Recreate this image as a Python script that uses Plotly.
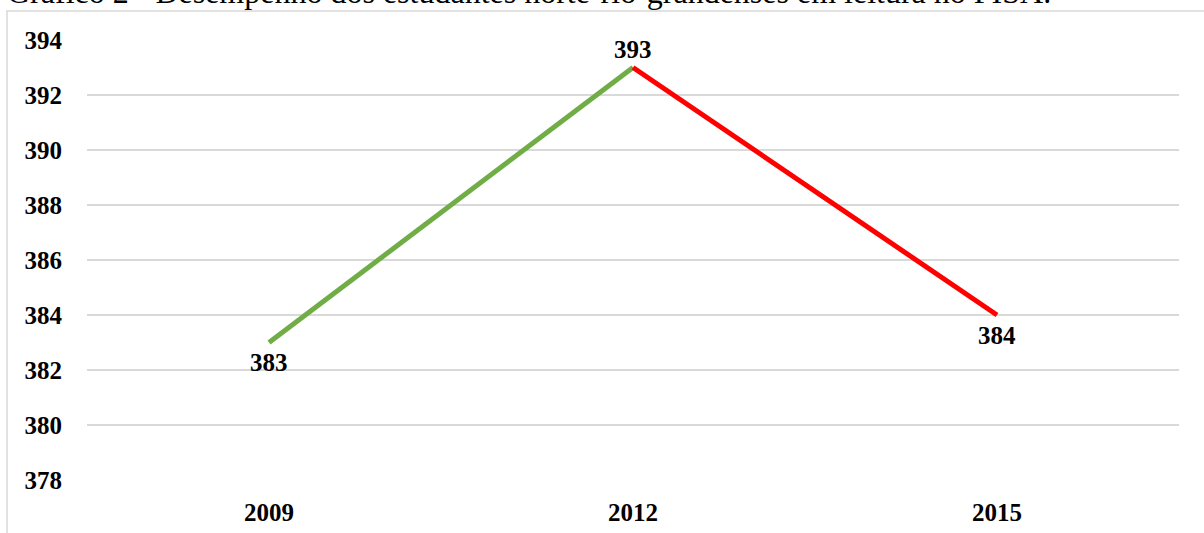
import plotly.graph_objects as go

years = ["2009", "2012", "2015"]
scores = [383, 393, 384]
label_below = [True, False, True]
y_ticks = [378, 380, 382, 384, 386, 388, 390, 392, 394]
title_text = "Gráfico 2 - Desempenho dos estudantes norte-rio-grandenses em leitura no PISA."

W, H = 1204, 533
L, R, T, B = 87, 25, 40, 53
pw, ph = W - L - R, H - T - B

def px_x(p):
    return (p - L) / pw

def px_y(p):
    return (H - B - p) / ph

fig = go.Figure()
fig.add_trace(go.Scatter(x=years[0:2], y=scores[0:2], mode="lines",
                         line=dict(color="#70AD47", width=5), hoverinfo="skip"))
fig.add_trace(go.Scatter(x=years[1:3], y=scores[1:3], mode="lines",
                         line=dict(color="#FF0000", width=5), hoverinfo="skip"))

annotations = []
for i, (sc, below) in enumerate(zip(scores, label_below)):
    annotations.append(dict(x=i, y=sc, xref="x", yref="y", text=str(sc), showarrow=False,
                            xanchor="center", yanchor="middle",
                            yshift=-20 if below else 18,
                            font=dict(family="Liberation Serif", size=25, color="black", weight="bold")))
annotations.append(dict(text=title_text, xref="paper", yref="paper", x=px_x(5), y=px_y(12),
                        xanchor="left", yanchor="bottom", showarrow=False,
                        font=dict(family="Liberation Serif", size=32, color="black")))

fig.update_layout(
    width=W, height=H,
    margin=dict(l=L, r=R, t=T, b=B, autoexpand=False),
    paper_bgcolor="white", plot_bgcolor="white",
    showlegend=False,
    font=dict(family="Liberation Serif", color="black"),
    xaxis=dict(type="category", categoryorder="array", categoryarray=years,
               range=[-0.5, 2.5], showgrid=False, zeroline=False, showline=False,
               automargin=False,
               ticks="", tickfont=dict(size=25, weight="bold"), ticklabelstandoff=15),
    yaxis=dict(range=[378, 394], tickvals=y_ticks, showgrid=True, gridcolor="#D9D9D9",
               gridwidth=1.5, zeroline=False, showline=False, ticks="", automargin=False,
               tickfont=dict(size=25, weight="bold"), ticklabelstandoff=24),
    shapes=[dict(type="rect", xref="paper", yref="paper",
                 x0=px_x(7), x1=px_x(1230), y0=px_y(560), y1=px_y(11),
                 line=dict(color="#D9D9D9", width=1.5), fillcolor="rgba(0,0,0,0)", layer="below")],
    annotations=annotations,
)

fig.write_html("out.html")
